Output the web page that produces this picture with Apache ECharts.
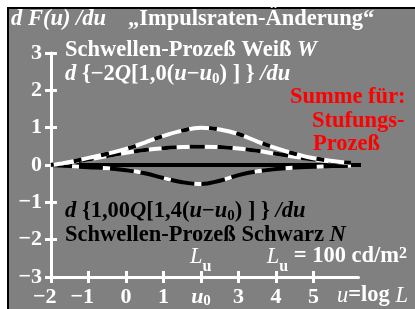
<!DOCTYPE html>
<html>
<head>
<meta charset="utf-8">
<script src="https://cdn.jsdelivr.net/npm/echarts@6/dist/echarts.min.js"></script>
<style>
html, body { margin: 0; padding: 0; background: #fff; }
#bg { position: absolute; left: 7px; top: 7px; width: 408px; height: 302px; background: #808080;
  border-left: 2px solid #000; border-top: 2px solid #000; box-sizing: border-box; }
#chart { position: absolute; left: 0; top: 0; width: 415px; height: 309px; }
</style>
</head>
<body>
<div id="bg"></div>
<div id="chart"></div>
<script>
// u = log L
var uGrid = [-2, -1.5, -1, -0.5, 0, 0.5, 1, 1.5, 2, 2.5, 3, 3.5, 4, 4.5, 5, 5.5, 6]
// Weiss W (upper), Summe (middle), Schwarz N (lower)
var weissW = [0, 0.08, 0.19, 0.30, 0.43, 0.60, 0.78, 0.92, 1.0, 0.95, 0.83, 0.63, 0.45, 0.30, 0.18, 0.11, 0.06]
var summe = [0, 0.07, 0.15, 0.24, 0.33, 0.40, 0.45, 0.48, 0.49, 0.48, 0.44, 0.38, 0.30, 0.22, 0.15, 0.09, 0.05]
var schwarzN = [0, -0.03, -0.06, -0.09, -0.14, -0.22, -0.35, -0.46, -0.51, -0.42, -0.27, -0.17, -0.11, -0.07, -0.05, -0.03, -0.02]
var zeroU = [-2, 6.3]
var zeroVals = [0, 0]
var xTicks = [-2, -1, 0, 1, 2, 3, 4, 5]
var yTicks = [-3, -2, -1, 0, 1, 2, 3]

var F = 'Liberation Serif'
var FS = 22.5

function pair (us, vals) {
  return us.map(function (u, i) { return [u, vals[i]] })
}

function line (data, color, dash, offset, z) {
  return {
    type: 'line',
    data: data,
    symbol: 'none',
    smooth: 0.4,
    silent: true,
    clip: false,
    z: z,
    lineStyle: { color: color, width: 4, type: dash || 'solid', dashOffset: offset || 0, cap: 'butt' }
  }
}

// rich styles for graphic texts (zrender style names)
var gr = {
  i: { fontFamily: F, fontSize: FS, fontStyle: 'italic' },
  bi: { fontFamily: F, fontSize: FS, fontStyle: 'italic', fontWeight: 'bold' },
  sub: { fontFamily: F, fontSize: 15, fontWeight: 'bold', padding: [10, 0, 0, 0] },
  subL: { fontFamily: F, fontSize: 16, fontWeight: 'bold', padding: [20, 0, 0, 0] },
  sup: { fontFamily: F, fontSize: 16, fontWeight: 'bold', padding: [0, 0, 6, 0] }
}

function txt (x, y, text, color, weight) {
  return {
    type: 'text',
    x: x,
    y: y,
    silent: true,
    style: {
      text: text,
      fill: color,
      fontFamily: F,
      fontSize: FS,
      fontWeight: weight || 'bold',
      align: 'left',
      verticalAlign: 'middle',
      rich: gr
    }
  }
}

var axisRich = {
  h: { color: 'rgba(0,0,0,0)', fontFamily: F, fontSize: 22, fontWeight: 'bold' },
  u: { color: '#fff', fontFamily: F, fontSize: 22, fontWeight: 'bold', fontStyle: 'italic' },
  s: { color: '#fff', fontFamily: F, fontSize: 15, fontWeight: 'bold', padding: [8, 0, 0, 0] }
}

var chart = echarts.init(document.getElementById('chart'), null, { renderer: 'canvas' })

var option = {
  animation: false,
  backgroundColor: 'transparent',
  grid: { left: 51, top: 53, width: 307.5, height: 225, containLabel: false },
  xAxis: [{
    type: 'value', min: -2, max: 6.2,
    axisLine: { show: true, onZero: false, lineStyle: { color: '#fff', width: 3 } },
    axisTick: { show: true, length: 6, customValues: xTicks, lineStyle: { color: '#fff', width: 3 } },
    axisLabel: {
      customValues: xTicks, margin: 9, color: '#fff',
      fontFamily: F, fontSize: 22, fontWeight: 'bold',
      formatter: function (v) {
        if (v === 2) return '{u|u}{s|0}'
        if (v < 0) return '\u2212' + (-v) + '{h|\u2212}'
        return String(v)
      },
      rich: axisRich
    },
    splitLine: { show: false }
  }, {
    type: 'value', min: -2, max: 6.2, position: 'bottom',
    axisLine: { show: false, onZero: false },
    axisTick: { show: true, inside: true, length: 6, customValues: xTicks, lineStyle: { color: '#fff', width: 3 } },
    axisLabel: { show: false },
    splitLine: { show: false }
  }],
  yAxis: [{
    type: 'value', min: -3, max: 3,
    axisLine: { show: true, onZero: false, lineStyle: { color: '#fff', width: 3 } },
    axisTick: { show: true, length: 6, customValues: yTicks, lineStyle: { color: '#fff', width: 3 } },
    axisLabel: {
      customValues: yTicks, margin: 9, color: '#fff',
      fontFamily: F, fontSize: 22, fontWeight: 'bold',
      formatter: function (v) { return v < 0 ? '\u2212' + (-v) : String(v) }
    },
    splitLine: { show: false }
  }, {
    type: 'value', min: -3, max: 3, position: 'left',
    axisLine: { show: false, onZero: false },
    axisTick: { show: true, inside: true, length: 6, customValues: yTicks, lineStyle: { color: '#fff', width: 3 } },
    axisLabel: { show: false },
    splitLine: { show: false }
  }],
  series: [
    line(pair(zeroU, zeroVals), '#000', 'solid', 0, 2),
    line(pair(uGrid, schwarzN), '#000', 'solid', 0, 3),
    line(pair(uGrid, schwarzN), '#fff', [7, 24], 10, 4),
    line(pair(uGrid, summe), '#fff', 'solid', 0, 5),
    line(pair(uGrid, summe), '#000', [15, 13], 0, 6),
    line(pair(uGrid, weissW), '#fff', 'solid', 0, 7),
    line(pair(uGrid, weissW), '#000', [8, 20], 5, 8)
  ],
  graphic: [
    txt(11, 19.6, '{bi|d F(u) /du}', '#fff'),
    txt(128, 19.6, '\u201EImpulsraten-\u00C4nderung\u201C', '#fff'),
    txt(65, 50, 'Schwellen-Proze\u00DF Wei\u00DF {bi|W}', '#fff'),
    txt(65, 74.3, '{bi|d }{\u22122{bi|Q}[1,0({bi|u}\u2212{bi|u}{sub|0}) ] } {bi|/du}', '#fff'),
    txt(290, 97.6, 'Summe f\u00FCr:', '#f00'),
    txt(312, 121.6, 'Stufungs-', '#f00'),
    txt(313, 144.3, 'Proze\u00DF', '#f00'),
    txt(65, 211, '{bi|d }{1,00{bi|Q}[1,4({bi|u}\u2212{bi|u}{sub|0}) ] } {bi|/du}', '#000'),
    txt(65, 235, 'Schwellen-Proze\u00DF Schwarz {bi|N}', '#000'),
    txt(190, 257, '{i|L}{subL|u}', '#fff'),
    txt(266.7, 256.6, '{i|L}{subL|u} = 100 cd/m{sup|2}', '#fff'),
    txt(337, 295.6, '{i|u}=log {i|L}', '#fff')
  ]
}

chart.setOption(option)
</script>
</body>
</html>
